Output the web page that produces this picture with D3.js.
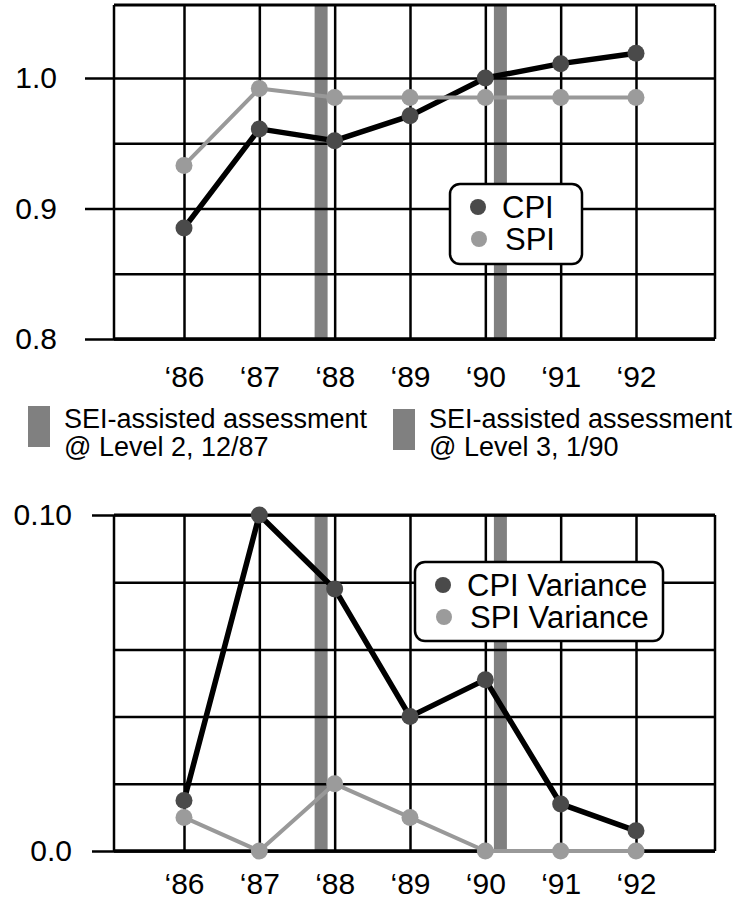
<!DOCTYPE html>
<html>
<head>
<meta charset="utf-8">
<script src="https://cdn.jsdelivr.net/npm/d3@7"></script>
<style>
  body { margin: 0; background: #fff; }
  svg { display: block; font-family: "Liberation Sans", Arial, Helvetica, sans-serif; }
</style>
</head>
<body>
<svg id="chart" width="733" height="903"></svg>
<script>
// Years on the x axis
const years = [86, 87, 88, 89, 90, 91, 92];
const yearLabels = ["\u201886", "\u201887", "\u201888", "\u201889", "\u201890", "\u201891", "\u201892"];

// Top panel: performance indices
const cpi = [0.885, 0.961, 0.952, 0.971, 1.0, 1.011, 1.019];
const spi = [0.933, 0.992, 0.985, 0.985, 0.985, 0.985, 0.985];
const topTicks = [0.8, 0.9, 1.0];
const topTickLabels = ["0.8", "0.9", "1.0"];
const topGrid = [0.85, 0.95];

// Bottom panel: variances
const cpiVariance = [0.015, 0.100, 0.078, 0.040, 0.051, 0.014, 0.006];
const spiVariance = [0.010, 0.000, 0.020, 0.010, 0.000, 0.000, 0.000];
const bottomTicks = [0, 0.10];
const bottomTickLabels = ["0.0", "0.10"];
const bottomGrid = [0.02, 0.04, 0.06, 0.08];

// SEI assessments (fractional year)
const assessmentDates = [87.82, 90.2];
const assessmentText = [
  ["SEI-assisted assessment", "@ Level 2, 12/87"],
  ["SEI-assisted assessment", "@ Level 3, 1/90"]
];

const svg = d3.select("#chart");
const frameLeft = 114, frameRight = 715;
const x = d3.scaleLinear().domain([86, 92]).range([184, 636]);

function drawPanel(o) {
  const y = d3.scaleLinear().domain(o.domain).range([o.bottom, o.top]);
  const g = svg.append("g");

  // gray assessment bars
  g.selectAll("rect.sei")
    .data(assessmentDates)
    .join("rect")
    .attr("class", "sei")
    .attr("x", d => x(d) - 6.5)
    .attr("width", 13)
    .attr("y", o.frameTop)
    .attr("height", o.bottom - o.frameTop)
    .attr("fill", "#808080");

  // unlabeled horizontal grid lines
  g.append("g")
    .attr("transform", `translate(${frameRight},0)`)
    .call(d3.axisLeft(y).tickValues(o.grid).tickSize(frameRight - frameLeft).tickFormat(""));

  // labeled ticks, reaching left of the frame
  g.append("g")
    .attr("transform", `translate(${frameRight},0)`)
    .call(d3.axisLeft(y)
      .tickValues(o.ticks)
      .tickSize(frameRight - o.tickStart)
      .tickPadding(o.tickStart - o.labelX)
      .tickFormat((d, i) => o.tickLabels[i]));

  // vertical grid lines + year labels
  g.append("g")
    .attr("transform", `translate(0,${o.bottom})`)
    .call(d3.axisBottom(x)
      .tickValues(years)
      .tickSize(-(o.bottom - o.frameTop))
      .tickPadding(o.xPad)
      .tickFormat((d, i) => yearLabels[i]));

  g.selectAll(".domain").remove();
  g.selectAll(".tick line").attr("stroke", "#000").attr("stroke-width", 2.5);
  g.selectAll(".tick text")
    .attr("fill", "#000")
    .style("font-size", "30px")
    .style("font-family", "'Liberation Sans', Arial, sans-serif");

  // frame
  g.append("line").attr("x1", frameLeft).attr("x2", frameLeft)
    .attr("y1", o.frameTop).attr("y2", o.bottom)
    .attr("stroke", "#000").attr("stroke-width", 2.5);
  g.append("line").attr("x1", frameRight).attr("x2", frameRight)
    .attr("y1", o.frameTop).attr("y2", o.bottom)
    .attr("stroke", "#000").attr("stroke-width", 2.5);
  g.append("line").attr("x1", frameLeft).attr("x2", frameRight)
    .attr("y1", o.frameTop).attr("y2", o.frameTop)
    .attr("stroke", "#000").attr("stroke-width", 3);
  g.append("line").attr("x1", frameLeft).attr("x2", frameRight)
    .attr("y1", o.bottom).attr("y2", o.bottom)
    .attr("stroke", "#000").attr("stroke-width", 3.5);

  // series lines
  const line = d3.line()
    .x((d, i) => x(years[i]))
    .y(d => y(d));

  g.append("path").datum(o.series[0])
    .attr("d", line).attr("fill", "none")
    .attr("stroke", "#000").attr("stroke-width", 5.5)
    .attr("stroke-linejoin", "round");
  g.append("path").datum(o.series[1])
    .attr("d", line).attr("fill", "none")
    .attr("stroke", "#999").attr("stroke-width", 4)
    .attr("stroke-linejoin", "round");

  const colors = ["#4a4a4a", "#9b9b9b"];
  o.series.forEach((s, k) => {
    g.selectAll(null).data(s).join("circle")
      .attr("cx", (d, i) => x(years[i]))
      .attr("cy", d => y(d))
      .attr("r", 8.5)
      .attr("fill", colors[k]);
  });

  // legend
  const lg = g.append("g");
  lg.append("rect")
    .attr("x", o.legend.x).attr("y", o.legend.y)
    .attr("width", o.legend.w).attr("height", o.legend.h)
    .attr("rx", 10)
    .attr("fill", "#fff").attr("stroke", "#000").attr("stroke-width", 2.5);
  o.legend.names.forEach((name, k) => {
    const cy = o.legend.y + 23 + k * 32;
    lg.append("circle")
      .attr("cx", o.legend.x + 28 + k * 1).attr("cy", cy)
      .attr("r", 8).attr("fill", colors[k]);
    lg.append("text")
      .attr("x", o.legend.x + 52 + k * 3).attr("y", cy + 11)
      .attr("font-size", 31)
      .text(name);
  });
}

drawPanel({
  domain: [0.8, 1.0], bottom: 339, top: 78, frameTop: 5,
  ticks: topTicks, tickLabels: topTickLabels, grid: topGrid,
  tickStart: 85, labelX: 57, xPad: 27,
  series: [cpi, spi],
  legend: { x: 450, y: 184, w: 132, h: 80, names: ["CPI", "SPI"] }
});

drawPanel({
  domain: [0, 0.10], bottom: 851, top: 515, frameTop: 515,
  ticks: bottomTicks, tickLabels: bottomTickLabels, grid: bottomGrid,
  tickStart: 92, labelX: 72, xPad: 22,
  series: [cpiVariance, spiVariance],
  legend: { x: 415, y: 562, w: 248, h: 79, names: ["CPI Variance", "SPI Variance"] }
});

// assessment key between the panels
const keyX = [28, 393];
assessmentText.forEach((lines, k) => {
  svg.append("rect")
    .attr("x", keyX[k]).attr("y", 406 + k * 3)
    .attr("width", 22).attr("height", 41)
    .attr("fill", "#808080");
  lines.forEach((t, j) => {
    svg.append("text")
      .attr("x", keyX[k] + 36).attr("y", 428 + j * 28)
      .attr("font-size", 27)
      .text(t);
  });
});
</script>
</body>
</html>
